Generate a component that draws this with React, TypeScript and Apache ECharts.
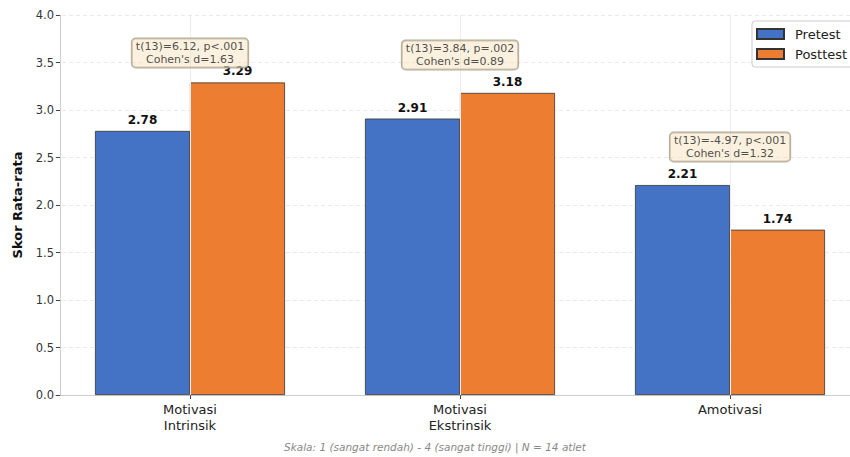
import React, { useEffect, useRef } from "react";
import * as echarts from "echarts";

const categories = ["Motivasi\nIntrinsik", "Motivasi\nEkstrinsik", "Amotivasi"];
const pretest = [2.78, 2.91, 2.21];
const posttest = [3.29, 3.18, 1.74];
const statLines = [
  "t(13)=6.12, p<.001\nCohen's d=1.63",
  "t(13)=3.84, p=.002\nCohen's d=0.89",
  "t(13)=-4.97, p<.001\nCohen's d=1.32",
];
const yTicks = [0, 0.5, 1, 1.5, 2, 2.5, 3, 3.5, 4];
const footnote = "Skala: 1 (sangat rendah) - 4 (sangat tinggi) | N = 14 atlet";

const FONT = "DejaVu Sans";

export default function App() {
  const ref = useRef<HTMLDivElement>(null);
  useEffect(() => {
    if (!ref.current) return;
    const chart = echarts.init(ref.current, undefined, { renderer: "svg" });
    const annY = categories.map((_, i) => Math.min(Math.max(pretest[i], posttest[i]) + 0.4, 3.6));
    chart.setOption({
      animation: false,
      backgroundColor: "#ffffff",
      textStyle: { fontFamily: FONT },
      grid: { left: 55, width: 810, top: 15, height: 380, containLabel: false },
      legend: {
        left: 752,
        top: 21,
        orient: "vertical",
        itemWidth: 27,
        itemHeight: 10,
        itemGap: 6,
        padding: [6, 6, 6, 4],
        backgroundColor: "#ffffff",
        borderColor: "#cccccc",
        borderWidth: 1,
        borderRadius: 3,
        textStyle: { fontSize: 13, color: "#222", fontFamily: FONT, lineHeight: 14, padding: [0, 0, 0, 6] },
        data: [
          { name: "Pretest", icon: "rect" },
          { name: "Posttest", icon: "rect" },
        ],
      },
      xAxis: {
        type: "category",
        data: categories,
        axisLine: { show: true, lineStyle: { color: "#cccccc", width: 1 } },
        axisTick: { show: true, alignWithLabel: true, length: 4, lineStyle: { color: "#444" } },
        axisLabel: { fontSize: 13, color: "#222", margin: 6, lineHeight: 16, fontFamily: FONT },
        splitLine: { show: false },
      },
      yAxis: {
        type: "value",
        min: 0,
        max: 4,
        interval: 0.5,
        offset: -5,
        axisLine: { show: true, lineStyle: { color: "#cccccc", width: 1 } },
        axisTick: { show: true, length: 4, lineStyle: { color: "#444" } },
        axisLabel: {
          fontSize: 11.5,
          color: "#333",
          margin: 6,
          fontFamily: FONT,
          formatter: (v: number) => (yTicks.includes(v) ? v.toFixed(1) : ""),
        },
        splitLine: { show: true, lineStyle: { color: "#e4e4e4", type: [4, 3], width: 0.8 } },
        name: "Skor Rata-rata",
        nameLocation: "middle",
        nameGap: 36,
        nameTextStyle: { fontSize: 13, fontWeight: "bold", color: "#111", fontFamily: FONT },
      },
      series: [
        {
          name: "gridx",
          type: "line",
          data: [],
          z: 0,
          silent: true,
          markLine: {
            silent: true,
            symbol: "none",
            label: { show: false },
            lineStyle: { color: "#ececec", type: "solid", width: 1 },
            data: categories.map((_, i) => ({ xAxis: i })),
          },
        },
        {
          name: "Pretest",
          type: "bar",
          data: pretest,
          barWidth: 95,
          barGap: "0%",
          z: 2,
          itemStyle: { color: "#4472C4", borderColor: "#333333", borderWidth: 0.8 },
          label: {
            show: true,
            position: "top",
            distance: 5,
            fontSize: 12,
            fontWeight: "bold",
            color: "#111",
            fontFamily: FONT,
            formatter: (p: any) => Number(p.value).toFixed(2),
          },
        },
        {
          name: "Posttest",
          type: "bar",
          data: posttest,
          barWidth: 95,
          barGap: "0%",
          z: 2,
          itemStyle: { color: "#ED7D31", borderColor: "#333333", borderWidth: 0.8 },
          label: {
            show: true,
            position: "top",
            distance: 5,
            fontSize: 12,
            fontWeight: "bold",
            color: "#111",
            fontFamily: FONT,
            formatter: (p: any) => Number(p.value).toFixed(2),
          },
        },
        {
          name: "ann",
          type: "scatter",
          symbolSize: 0,
          z: 5,
          silent: true,
          data: categories.map((c, i) => ({ value: [i, annY[i]] })),
          label: {
            show: true,
            position: "inside",
            fontSize: 11,
            lineHeight: 13,
            color: "#222",
            fontFamily: FONT,
            align: "center",
            backgroundColor: "rgba(245,222,179,0.55)",
            borderColor: "#a09a8a",
            borderWidth: 1,
            borderRadius: 4,
            padding: [2, 4, 1, 4],
            formatter: (p: any) => statLines[p.dataIndex],
          },
        },
      ],
      graphic: [
        {
          type: "text",
          left: 284,
          top: 441,
          style: {
            text: footnote,
            fontSize: 10.5,
            fontStyle: "italic",
            fill: "#888888",
            fontFamily: FONT,
          },
        },
      ],
    });
    return () => chart.dispose();
  }, []);
  return <div ref={ref} style={{ position: "fixed", left: 0, top: 0, width: 880, height: 457 }} />;
}
